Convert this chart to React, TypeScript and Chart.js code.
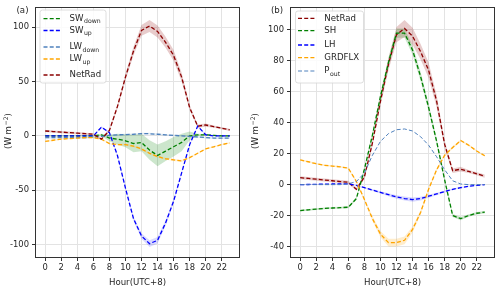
import React, { useEffect, useRef } from "react";
import { Chart, registerables } from "chart.js";

Chart.register(...registerables);

// ---------- data ----------
const HOURS = [0, 1, 2, 3, 4, 5, 6, 7, 8, 9, 10, 11, 12, 13, 14, 15, 16, 17, 18, 19, 20, 21, 22, 23];
const X_TICKS = [0, 2, 4, 6, 8, 10, 12, 14, 16, 18, 20, 22];
const A_Y_TICKS = [-100, -50, 0, 50, 100];
const B_Y_TICKS = [-40, -20, 0, 20, 40, 60, 80, 100];

// panel (a)
const SW_DOWN = [0, 0, 0, 0, 0, 0, 0, 1, -2, -3, -4.5, -7, -6, -13, -18, -14, -10, -6, 0, 1, 1, 0.5, 0, 0];
const SW_DOWN_SD = [0.5, 0.5, 0.5, 0.5, 0.5, 0.5, 0.5, 1, 3, 5, 6, 8, 8, 9, 10, 9, 9, 8, 4, 1, 0.5, 0.5, 0.5, 0.5];
const SW_UP = [0, 0, 0, 0, 0, 0, 0, 8, 3, -18, -48, -76, -92, -99, -96, -80, -60, -34, -8, 9, 1, 0, 0, 0];
const SW_UP_SD = [0.3, 0.3, 0.3, 0.3, 0.3, 0.3, 0.3, 0.8, 1, 1.2, 1.5, 2, 2.5, 3, 3, 2.5, 2, 1.5, 1, 0.8, 0.5, 0.3, 0.3, 0.3];
const LW_DOWN = [-1.5, -1.5, -1.5, -1.5, -1.5, -1.5, -1.2, -0.5, 0.5, 1, 1.2, 1.5, 2, 2, 1.5, 1, 0.5, 0, -0.5, -1, -1.5, -2, -2, -2];
const LW_DOWN_SD = [0.8, 0.8, 0.8, 0.8, 0.8, 0.8, 0.8, 0.8, 0.8, 0.8, 0.8, 0.8, 0.8, 0.8, 0.8, 0.8, 0.8, 0.8, 0.8, 0.8, 0.8, 0.8, 0.8, 0.8];
const LW_UP = [-5, -4, -3, -2.5, -2, -1.5, -1.5, -3, -7, -8, -8, -9.5, -12, -16, -19, -21, -22, -23, -20, -16, -12, -10, -8, -6.5];
const LW_UP_SD = [0.6, 0.6, 0.6, 0.6, 0.6, 0.6, 0.6, 0.8, 0.8, 0.8, 1, 1, 1, 1, 1, 1, 1, 1, 0.8, 0.8, 0.6, 0.6, 0.6, 0.6];
const NET_RAD = [4.5, 4, 3.5, 3, 2.5, 2, 1.5, -3, 5, 27, 54, 78, 97, 101, 96, 86, 74, 54, 26, 9, 10, 8.5, 7, 5.5];
const NET_RAD_SD = [1, 1, 1, 1, 1, 1, 1, 1, 1.5, 2, 3, 4, 5, 5.5, 5.5, 5, 5, 4, 2.5, 1.5, 1.5, 1, 1, 1];

// panel (b)
const SH = [-16.8, -16.3, -15.8, -15.4, -15.1, -14.9, -14.6, -9, 10, 32, 57, 79, 98, 98, 87, 70, 50, 28, 3, -20, -22, -20, -18.5, -17.8];
const SH_SD = [0.6, 0.6, 0.6, 0.6, 0.6, 0.6, 0.6, 1, 1.5, 2, 2.5, 3, 3, 3, 3, 3, 2.5, 2, 1.5, 1, 1, 0.8, 0.8, 0.8];
const LH = [0, 0.1, 0.2, 0.3, 0.4, 0.5, 0.5, -0.5, -2, -3.5, -5, -6.5, -8, -9, -9.7, -9, -7.5, -6, -4.5, -3, -2, -1, -0.5, 0];
const LH_SD = [0.2, 0.2, 0.2, 0.2, 0.2, 0.2, 0.2, 0.3, 0.4, 0.6, 0.8, 1, 1.2, 1.3, 1.3, 1.2, 1, 0.8, 0.6, 0.5, 0.4, 0.3, 0.2, 0.2];
const GRDFLX = [16, 14.8, 13.5, 12.5, 12, 11.5, 10.6, 2, -9.6, -22, -32, -37.5, -37.5, -36, -29, -18, -3, 9.6, 19, 24, 28.5, 25.5, 21.7, 18.7];
const GRDFLX_SD = [0.5, 0.5, 0.5, 0.5, 0.5, 0.5, 0.5, 0.8, 1, 1.5, 2, 2.5, 2.5, 2.5, 2, 1.5, 1, 1, 0.8, 0.8, 0.6, 0.6, 0.5, 0.5];
const P_OUT = [0, 0, 0, 0, 0, 0, 0.5, 2, 7.5, 19, 28, 33, 35.5, 36, 34.7, 31, 25.5, 18, 9.6, 2.5, 0.4, 0, 0, 0];

// ---------- styling ----------
const FONT = "'DejaVu Sans', 'Liberation Sans', sans-serif";
const TEXT = "#262626";

type Series = {
  label: string;
  sub?: string;
  color: string;
  band?: string;
  data: number[];
  sd?: number[];
  width?: number;
};

const PANEL_A: Series[] = [
  { label: "SW", sub: "down", color: "#008000", band: "rgba(0,128,0,0.2)", data: SW_DOWN, sd: SW_DOWN_SD },
  { label: "SW", sub: "up", color: "#0000ff", band: "rgba(0,0,255,0.15)", data: SW_UP, sd: SW_UP_SD },
  { label: "LW", sub: "down", color: "#4f81bd", band: "rgba(70,130,180,0.15)", data: LW_DOWN, sd: LW_DOWN_SD },
  { label: "LW", sub: "up", color: "#ffa500", band: "rgba(255,165,0,0.15)", data: LW_UP, sd: LW_UP_SD },
  { label: "NetRad", color: "#8b0000", band: "rgba(139,0,0,0.2)", data: NET_RAD, sd: NET_RAD_SD },
];

const PANEL_B: Series[] = [
  { label: "NetRad", color: "#8b0000", band: "rgba(139,0,0,0.2)", data: NET_RAD, sd: NET_RAD_SD },
  { label: "SH", color: "#008000", band: "rgba(0,128,0,0.2)", data: SH, sd: SH_SD },
  { label: "LH", color: "#0000ff", band: "rgba(0,0,255,0.15)", data: LH, sd: LH_SD },
  { label: "GRDFLX", color: "#ffa500", band: "rgba(255,165,0,0.2)", data: GRDFLX, sd: GRDFLX_SD },
  { label: "P", sub: "out", color: "#4f81bd", data: P_OUT, width: 1 },
];

type PanelCfg = {
  tag: string;
  series: Series[];
  yMin: number;
  yMax: number;
  yTicks: number[];
  yAxisWidth: number;
  padRight: number;
  legendBox: [number, number, number, number]; // x, y, w, h (canvas coords)
  legendRows: number[];
  sampleX: [number, number];
  textX: number;
  tagX: number;
  yTitleX: number;
};

const CFG_A: PanelCfg = {
  tag: "(a)",
  series: PANEL_A,
  yMin: -111.3,
  yMax: 117.5,
  yTicks: A_Y_TICKS,
  yAxisWidth: 36,
  padRight: 11,
  legendBox: [40, 10, 66, 73],
  legendRows: [18.7, 30.5, 47, 59, 75],
  sampleX: [43.5, 62],
  textX: 69.5,
  tagX: 22.5,
  yTitleX: 9,
};

const CFG_B: PanelCfg = {
  tag: "(b)",
  series: PANEL_B,
  yMin: -46.8,
  yMax: 114.2,
  yTicks: B_Y_TICKS,
  yAxisWidth: 41,
  padRight: 6,
  legendBox: [45.5, 11, 68, 72],
  legendRows: [18.3, 30.7, 45, 57.7, 71],
  sampleX: [48, 66],
  textX: 74.3,
  tagX: 27,
  yTitleX: 6,
};

function buildDatasets(series: Series[]) {
  const lines: any[] = [];
  const bands: any[] = [];
  const n = series.length;
  series.forEach((s, i) => {
    lines.push({
      data: HOURS.map((h, j) => ({ x: h, y: s.data[j] })),
      borderColor: s.color,
      borderWidth: s.width ?? 1.3,
      borderDash: [4, 2.2],
      pointRadius: 0,
      fill: false,
      tension: 0,
      order: n - i,
    });
    if (s.sd && s.band) {
      bands.push({
        data: HOURS.map((h, j) => ({ x: h, y: s.data[j] - s.sd![j] })),
        borderWidth: 0,
        borderColor: "rgba(0,0,0,0)",
        pointRadius: 0,
        fill: false,
        tension: 0,
        order: 100 + n - i,
      });
      bands.push({
        data: HOURS.map((h, j) => ({ x: h, y: s.data[j] + s.sd![j] })),
        borderWidth: 0,
        borderColor: "rgba(0,0,0,0)",
        backgroundColor: s.band,
        pointRadius: 0,
        fill: "-1",
        tension: 0,
        order: 100 + n - i,
      });
    }
  });
  return [...bands, ...lines];
}

function drawLabel(ctx: CanvasRenderingContext2D, x: number, y: number, main: string, sub?: string) {
  ctx.font = `8.6px ${FONT}`;
  ctx.textBaseline = "middle";
  ctx.textAlign = "left";
  ctx.fillStyle = TEXT;
  ctx.fillText(main, x, y);
  if (sub) {
    const w = ctx.measureText(main).width;
    ctx.font = `6.2px ${FONT}`;
    ctx.fillText(sub, x + w + 0.5, y + 3);
  }
}

function decorPlugin(cfg: PanelCfg) {
  return {
    id: "decor",
    afterDatasetsDraw(chart: any) {
      const ctx: CanvasRenderingContext2D = chart.ctx;
      const a = chart.chartArea;
      ctx.save();
      // frame
      ctx.strokeStyle = "#333333";
      ctx.lineWidth = 1;
      ctx.setLineDash([]);
      const l = Math.round(a.left) - 0.5;
      const t = Math.round(a.top) - 0.5;
      const r = Math.round(a.right) + 0.5;
      const b = Math.round(a.bottom) + 0.5;
      ctx.strokeRect(l, t, r - l, b - t);

      // legend
      const [bx, by, bw, bh] = cfg.legendBox;
      const rad = 2.5;
      ctx.beginPath();
      ctx.moveTo(bx + rad, by);
      ctx.lineTo(bx + bw - rad, by);
      ctx.quadraticCurveTo(bx + bw, by, bx + bw, by + rad);
      ctx.lineTo(bx + bw, by + bh - rad);
      ctx.quadraticCurveTo(bx + bw, by + bh, bx + bw - rad, by + bh);
      ctx.lineTo(bx + rad, by + bh);
      ctx.quadraticCurveTo(bx, by + bh, bx, by + bh - rad);
      ctx.lineTo(bx, by + rad);
      ctx.quadraticCurveTo(bx, by, bx + rad, by);
      ctx.closePath();
      ctx.fillStyle = "rgba(255,255,255,0.85)";
      ctx.fill();
      ctx.strokeStyle = "#d5d5d5";
      ctx.lineWidth = 0.8;
      ctx.stroke();

      cfg.series.forEach((s, i) => {
        const y = cfg.legendRows[i];
        ctx.beginPath();
        ctx.strokeStyle = s.color;
        ctx.lineWidth = s.width ?? 1.3;
        ctx.setLineDash([4, 2.2]);
        ctx.moveTo(cfg.sampleX[0], y);
        ctx.lineTo(cfg.sampleX[1], y);
        ctx.stroke();
        ctx.setLineDash([]);
        drawLabel(ctx, cfg.textX, y, s.label, s.sub);
      });
      ctx.restore();
    },
    afterDraw(chart: any) {
      const ctx: CanvasRenderingContext2D = chart.ctx;
      const a = chart.chartArea;
      ctx.save();
      ctx.fillStyle = TEXT;
      // panel tag
      ctx.font = `8.6px ${FONT}`;
      ctx.textAlign = "center";
      ctx.textBaseline = "middle";
      ctx.fillText(cfg.tag, cfg.tagX, 11);
      // x title
      ctx.fillText("Hour(UTC+8)", (a.left + a.right) / 2, 283);
      // y title (rotated)
      ctx.translate(cfg.yTitleX, 131);
      ctx.rotate(-Math.PI / 2);
      ctx.textAlign = "left";
      const p1 = "(W m";
      const sup = "\u22122";
      const p3 = ")";
      ctx.font = `8.6px ${FONT}`;
      const w1 = ctx.measureText(p1).width;
      const w3 = ctx.measureText(p3).width;
      ctx.font = `6.2px ${FONT}`;
      const w2 = ctx.measureText(sup).width;
      const total = w1 + w2 + w3 + 0.5;
      let x = -total / 2;
      ctx.font = `8.6px ${FONT}`;
      ctx.fillText(p1, x, 0);
      x += w1 + 0.5;
      ctx.font = `6.2px ${FONT}`;
      ctx.fillText(sup, x, -3);
      x += w2;
      ctx.font = `8.6px ${FONT}`;
      ctx.fillText(p3, x, 0);
      ctx.restore();
    },
  };
}

function Panel({ cfg }: { cfg: PanelCfg }) {
  const ref = useRef<HTMLCanvasElement | null>(null);
  useEffect(() => {
    if (!ref.current) return;
    const chart = new Chart(ref.current, {
      type: "line",
      data: { datasets: buildDatasets(cfg.series) as any },
      options: {
        animation: false,
        responsive: false,
        maintainAspectRatio: false,
        devicePixelRatio: 1,
        layout: { padding: { left: 0, right: cfg.padRight, top: 5, bottom: 0 } },
        plugins: {
          legend: { display: false },
          tooltip: { enabled: false },
          filler: { propagate: false },
        },
        scales: {
          x: {
            type: "linear",
            min: -1.15,
            max: 24.15,
            afterBuildTicks: (s: any) => {
              s.ticks = X_TICKS.map((v) => ({ value: v }));
            },
            afterFit: (s: any) => {
              s.height = 35;
            },
            grid: { color: "#e3e3e3", lineWidth: 1, tickColor: "#333333", tickLength: 4, drawTicks: true },
            border: { display: false },
            ticks: {
              font: { family: FONT, size: 8.4 },
              color: TEXT,
              padding: 2,
              maxRotation: 0,
              autoSkip: false,
            },
          },
          y: {
            type: "linear",
            min: cfg.yMin,
            max: cfg.yMax,
            afterBuildTicks: (s: any) => {
              s.ticks = cfg.yTicks.map((v) => ({ value: v }));
            },
            afterFit: (s: any) => {
              s.width = cfg.yAxisWidth;
            },
            grid: { color: "#e3e3e3", lineWidth: 1, tickColor: "#333333", tickLength: 4, drawTicks: true },
            border: { display: false },
            ticks: {
              font: { family: FONT, size: 8.4 },
              color: TEXT,
              padding: 3,
              autoSkip: false,
            },
          },
        },
      } as any,
      plugins: [decorPlugin(cfg) as any],
    });
    return () => chart.destroy();
  }, [cfg]);
  return <canvas ref={ref} width={250} height={292} style={{ display: "block", width: 250, height: 292 }} />;
}

export default function App() {
  return (
    <div
      style={{
        position: "absolute",
        left: 0,
        top: 0,
        width: 500,
        height: 292,
        display: "flex",
        background: "#ffffff",
      }}
    >
      <Panel cfg={CFG_A} />
      <Panel cfg={CFG_B} />
    </div>
  );
}
